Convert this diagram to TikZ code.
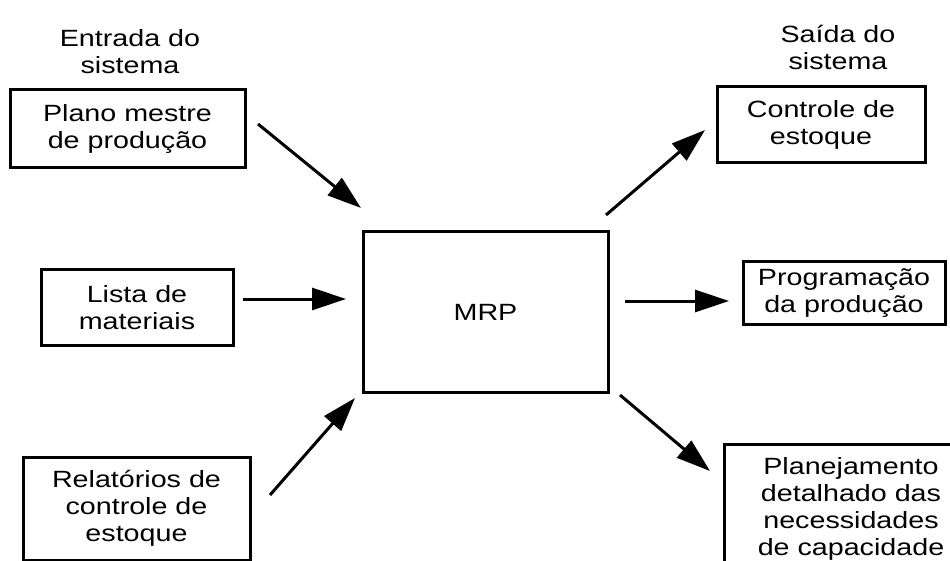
\documentclass[tikz,border=0pt]{standalone}
\usepackage{fontspec}
\setmainfont{Liberation Sans}[FakeStretch=1.22]
\usetikzlibrary{arrows.meta}
\newcommand\lbl{\fontsize{23.5pt}{27pt}\selectfont}
\begin{document}
\begin{tikzpicture}[x=1pt,y=-1pt,
  box/.style={draw, line width=3pt, inner sep=0pt, align=center, font=\lbl},
  heading/.style={inner sep=0pt, align=center, font=\lbl},
  flow/.style={line width=3pt, -{Triangle[length=34pt,width=22pt]}}]
\clip (0,0) rectangle (950,561);
\fill[white] (0,0) rectangle (950,561);

% column headings
\node[heading] (inhead)  at (130,52) {Entrada do\\sistema};
\node[heading] (outhead) at (838,47) {Saída do\\sistema};

% inputs
\node[box, minimum width=235pt, minimum height=78pt]  (plano) at (127.5,129) {Plano mestre\\de produção};
\node[box, minimum width=192pt, minimum height=75pt]  (lista) at (137,307.5) {Lista de\\materiais};
\node[box, minimum width=227pt, minimum height=103pt] (relat) at (136.5,508.5) {Relatórios de\\controle de\\estoque};

% central system
\node[box, minimum width=245pt, minimum height=160pt] (mrp) at (485.5,312) {MRP};

% outputs
\node[box, minimum width=208pt, minimum height=76pt]  (contr) at (821,125) {Controle de\\estoque};
\node[box, minimum width=202pt, minimum height=62pt]  (prog)  at (844,293) {Programação\\da produção};
\node[box, minimum width=254pt, minimum height=130pt] (plan)  at (851,509) {Planejamento\\detalhado das\\necessidades\\de capacidade};

% arrow end points
\coordinate (a1) at (258,124); \coordinate (b1) at (361,208);
\coordinate (a2) at (243,299); \coordinate (b2) at (346,299);
\coordinate (a3) at (270,495); \coordinate (b3) at (355,398);
\coordinate (a4) at (606,215); \coordinate (b4) at (705,130);
\coordinate (a5) at (625,301); \coordinate (b5) at (729,301);
\coordinate (a6) at (620,395); \coordinate (b6) at (710,471);

\draw[flow] (a1) -- (b1);
\draw[flow] (a2) -- (b2);
\draw[flow] (a3) -- (b3);
\draw[flow] (a4) -- (b4);
\draw[flow] (a5) -- (b5);
\draw[flow] (a6) -- (b6);
\end{tikzpicture}
\end{document}
